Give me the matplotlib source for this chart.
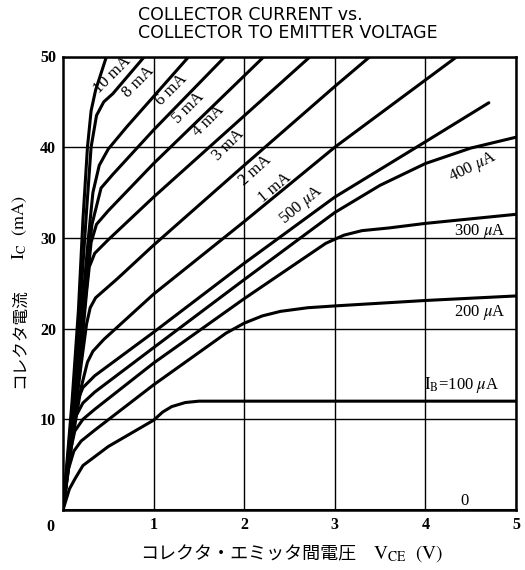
"""Transistor output characteristics: collector current vs. collector-emitter voltage."""
import matplotlib.pyplot as plt

plt.rcParams["mathtext.fontset"] = "stix"

# curve data, V_CE in volts, I_C in mA
V_10MA = [0, 0.10, 0.17, 0.22, 0.27, 0.31, 0.36, 0.48]
I_10MA = [0, 12, 22, 32, 40, 44, 46.3, 50]
V_8MA = [0, 0.10, 0.20, 0.26, 0.31, 0.37, 0.45, 0.55, 0.90]
I_8MA = [0, 11, 24, 33, 40, 43.5, 45, 45.9, 50]
V_6MA = [0, 0.10, 0.20, 0.28, 0.33, 0.40, 0.50, 0.70, 1.39]
I_6MA = [0, 10, 21, 30, 35, 38, 39.8, 42.2, 50]
V_5MA = [0, 0.10, 0.20, 0.27, 0.32, 0.42, 0.55, 1.00, 1.79]
I_5MA = [0, 9.5, 19.5, 27, 31.5, 35.5, 37, 41.9, 50]
V_4MA = [0, 0.10, 0.20, 0.27, 0.31, 0.37, 0.50, 1.00, 2.22]
I_4MA = [0, 9, 18.5, 25.5, 29.5, 31.5, 33, 38.2, 50]
V_3MA = [0, 0.10, 0.20, 0.26, 0.29, 0.35, 0.50, 1.00, 2.73]
I_3MA = [0, 8.5, 17.5, 24, 26.8, 28.3, 29.8, 34.5, 50]
V_2MA = [0, 0.10, 0.20, 0.26, 0.30, 0.36, 0.60, 1.00, 2.00, 3.00, 3.39]
I_2MA = [0, 8, 16, 20.5, 22.3, 23.4, 25.5, 29.2, 38, 46.7, 50]
V_1MA = [0, 0.10, 0.20, 0.27, 0.33, 0.45, 1.00, 2.00, 3.00, 4.35]
I_1MA = [0, 7.5, 13.5, 16.3, 17.5, 18.8, 23.8, 31.8, 40, 50]
V_500UA = [0, 0.08, 0.15, 0.22, 0.35, 1.0, 2.0, 3.0, 4.0, 4.7]
I_500UA = [0, 7.5, 11.8, 13.5, 14.8, 19.6, 27.2, 34.5, 40.6, 44.9]
V_400UA = [0, 0.07, 0.14, 0.22, 0.35, 1.0, 2.0, 3.0, 3.5, 4.0, 4.5, 5.0]
I_400UA = [0, 6.8, 10.3, 11.8, 13.0, 17.9, 25.4, 32.8, 35.8, 38.2, 39.9, 41.1]
V_300UA = [0, 0.07, 0.13, 0.22, 0.35, 1.0, 2.0, 2.9, 3.1, 3.3, 3.6, 4.0, 5.0]
I_300UA = [0, 6, 8.7, 10.0, 11.1, 16.2, 23.3, 29.4, 30.3, 30.8, 31.1, 31.6, 32.6]
V_200UA = [0, 0.06, 0.12, 0.20, 0.35, 1.0, 1.8, 2.0, 2.2, 2.4, 2.7, 3.0, 4.0, 5.0]
I_200UA = [0, 4.5, 6.5, 7.6, 8.8, 13.8, 19.5, 20.6, 21.4, 21.9, 22.3, 22.5, 23.1, 23.6]
V_100UA = [0, 0.07, 0.13, 0.22, 0.50, 1.00, 1.10, 1.20, 1.35, 1.50, 5.0]
I_100UA = [0, 2.3, 3.4, 4.9, 7.0, 9.9, 10.8, 11.4, 11.85, 12.0, 12.0]
V_0UA = [0, 5.0]
I_0UA = [0, 0]

CURVE_LABELS = ["10 mA", "8 mA", "6 mA", "5 mA", "4 mA", "3 mA", "2 mA", "1 mA",
                "500 $\\mu$A", "400 $\\mu$A", "300 $\\mu$A", "200 $\\mu$A",
                "$\\mathrm{I_B}$=100 $\\mu$A", "0"]

X_TICKS = [1, 2, 3, 4, 5]
Y_TICKS = [10, 20, 30, 40, 50]

CJK = ["Noto Sans CJK JP", "DejaVu Sans"]


def main():
    fig = plt.figure(figsize=(5.25, 5.70), dpi=100)
    ax = fig.add_axes([63 / 525, 1 - 510 / 570, 453 / 525, 453.5 / 570])

    curves = [(V_10MA, I_10MA), (V_8MA, I_8MA), (V_6MA, I_6MA), (V_5MA, I_5MA),
              (V_4MA, I_4MA), (V_3MA, I_3MA), (V_2MA, I_2MA), (V_1MA, I_1MA),
              (V_500UA, I_500UA), (V_400UA, I_400UA), (V_300UA, I_300UA),
              (V_200UA, I_200UA), (V_100UA, I_100UA), (V_0UA, I_0UA)]
    for v, i in curves:
        ax.plot(v, i, color="black", linewidth=2.2, solid_capstyle="round",
                solid_joinstyle="round", clip_on=True)

    ax.set_xlim(0, 5)
    ax.set_ylim(0, 50)
    ax.set_xticks(X_TICKS)
    ax.set_yticks(Y_TICKS)
    ax.grid(True, color="black", linewidth=1.0)
    ax.tick_params(length=0, labelsize=11.5, pad=5)
    for lab in ax.get_xticklabels() + ax.get_yticklabels():
        lab.set_family("Liberation Serif")
        lab.set_fontweight("bold")
    for s in ax.spines.values():
        s.set_linewidth(1.8)
    ax.text(-0.02, -0.02, "0", transform=ax.transAxes, ha="right", va="top",
            fontsize=11.5, family="Liberation Serif", fontweight="bold")

    # curve labels: (V, I, rotation)
    spots = [(0.55, 48.0, 45), (0.83, 47.2, 45), (1.20, 46.3, 45), (1.38, 44.3, 45),
             (1.60, 42.9, 45), (1.82, 40.2, 45), (2.12, 37.4, 42), (2.34, 35.5, 40),
             (2.63, 33.6, 40), (4.53, 37.8, 26), (4.60, 30.7, 0), (4.60, 21.8, 0),
             (4.40, 13.8, 0), (4.43, 1.0, 0)]
    for text, (x, y, rot) in zip(CURVE_LABELS, spots):
        ax.text(x, y, text, rotation=rot, ha="center", va="center", fontsize=12,
                family="Liberation Serif", rotation_mode="anchor")

    fig.text(138 / 525, 1 - 15 / 570, "COLLECTOR CURRENT vs.", fontsize=12.5,
             ha="left", va="center", family="DejaVu Sans")
    fig.text(138 / 525, 1 - 33 / 570, "COLLECTOR TO EMITTER VOLTAGE", fontsize=12.5,
             ha="left", va="center", family="DejaVu Sans")

    fig.text(248 / 525, 1 - 554 / 570, "コレクタ・エミッタ間電圧", fontsize=13,
             ha="center", va="center", family=CJK)
    fig.text(408 / 525, 1 - 554 / 570, r"$\mathrm{V_{CE}\ \ (V)}$", fontsize=14,
             ha="center", va="center")
    fig.text(20 / 525, 1 - 338 / 570, "コレクタ電流", fontsize=12, rotation=90,
             ha="center", va="center", family=CJK)
    fig.text(20 / 525, 1 - 228 / 570, r"$\mathrm{I_C\ \ (mA)}$", fontsize=13,
             rotation=90, ha="center", va="center")

    fig.savefig("out.png", dpi=100)
    plt.close(fig)


if __name__ == "__main__":
    main()
